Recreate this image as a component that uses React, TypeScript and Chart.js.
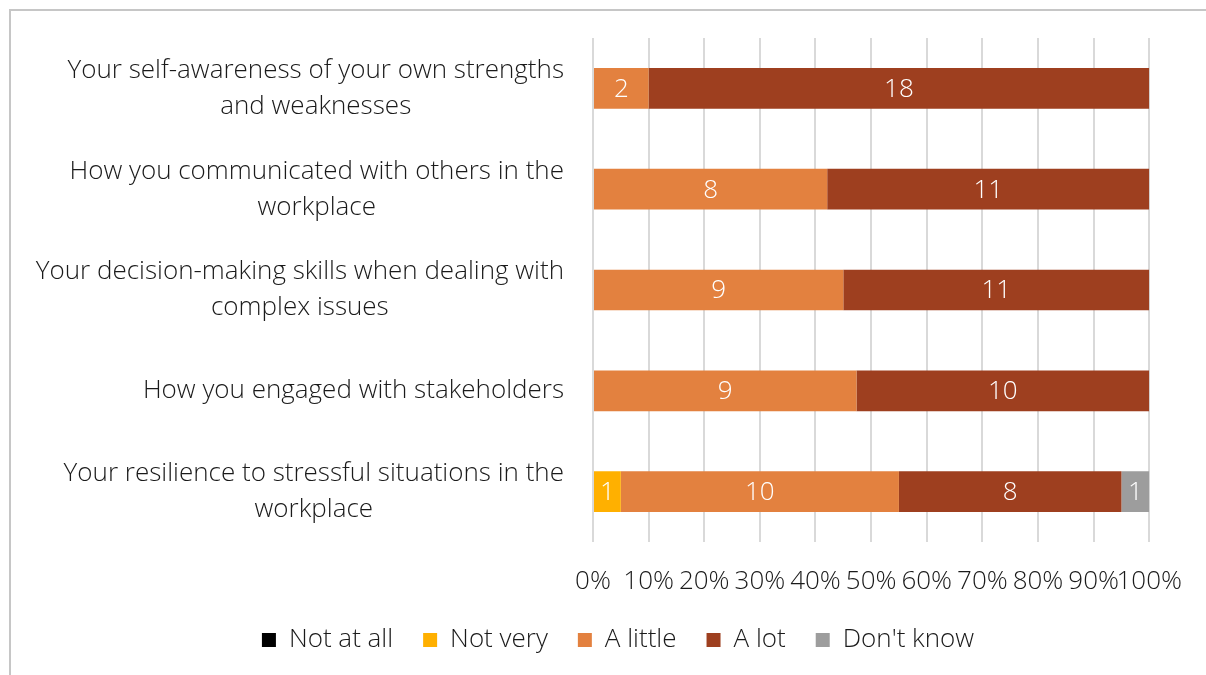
import React, { useEffect, useRef } from 'react';
import { Chart, registerables } from 'chart.js';

Chart.register(...registerables);

const categories: string[][] = [
  ['Your self-awareness of your own strengths', 'and weaknesses'],
  ['How you communicated with others in the', 'workplace'],
  ['Your decision-making skills when dealing with', 'complex issues'],
  ['How you engaged with stakeholders'],
  ['Your resilience to stressful situations in the', 'workplace'],
];
const seriesNames = ['Not at all', 'Not very', 'A little', 'A lot', "Don't know"];
const notAtAll = [0, 0, 0, 0, 0];
const notVery = [0, 0, 0, 0, 1];
const aLittle = [2, 8, 9, 9, 10];
const aLot = [18, 11, 11, 10, 8];
const dontKnow = [0, 0, 0, 0, 1];
const seriesColors = ['#000000', '#FFB000', '#E3813F', '#9E3F1F', '#9D9D9D'];
const xTickValues = [0, 10, 20, 30, 40, 50, 60, 70, 80, 90, 100];

const FONT = "'Open Sans', sans-serif";
const WEIGHT = 350;
const SIZE = 26;
const TEXT_COLOR = '#1A1A1A';

const allSeries = [notAtAll, notVery, aLittle, aLot, dontKnow];
const totals = categories.map((_, i) => allSeries.reduce((s, arr) => s + arr[i], 0));

const borderPlugin = {
  id: 'outerBorder',
  beforeDraw(chart: any) {
    const ctx = chart.ctx;
    ctx.save();
    ctx.strokeStyle = '#C6C6C6';
    ctx.lineWidth = 2;
    ctx.beginPath();
    ctx.moveTo(10, chart.height + 2);
    ctx.lineTo(10, 10);
    ctx.lineTo(chart.width + 2, 10);
    ctx.stroke();
    ctx.restore();
  },
};

const yLabelPlugin = {
  id: 'yLabels',
  afterDraw(chart: any) {
    const ctx = chart.ctx;
    const yScale = chart.scales.y;
    const right = chart.chartArea.left - 29;
    const lineH = 36;
    ctx.save();
    ctx.font = `${WEIGHT} ${SIZE}px ${FONT}`;
    ctx.fillStyle = TEXT_COLOR;
    ctx.textAlign = 'center';
    ctx.textBaseline = 'middle';
    categories.forEach((lines, i) => {
      const cy = yScale.getPixelForValue(i);
      const widest = Math.max(...lines.map((l) => ctx.measureText(l).width));
      const cx = right - widest / 2;
      const startY = cy - ((lines.length - 1) * lineH) / 2;
      lines.forEach((l, j) => ctx.fillText(l, cx, startY + j * lineH));
    });
    ctx.restore();
  },
};

const dataLabelPlugin = {
  id: 'dataLabels',
  afterDatasetsDraw(chart: any) {
    const ctx = chart.ctx;
    ctx.save();
    ctx.font = `${WEIGHT} ${SIZE}px ${FONT}`;
    ctx.fillStyle = '#FFFFFF';
    ctx.textAlign = 'center';
    ctx.textBaseline = 'middle';
    chart.data.datasets.forEach((ds: any, di: number) => {
      const meta = chart.getDatasetMeta(di);
      meta.data.forEach((el: any, i: number) => {
        const count = allSeries[di][i];
        if (!count) return;
        const p = el.getProps(['x', 'y', 'base'], true);
        ctx.fillText(String(count), (p.x + p.base) / 2, p.y + 1);
      });
    });
    ctx.restore();
  },
};

export default function App() {
  const ref = useRef<HTMLCanvasElement>(null);
  useEffect(() => {
    if (!ref.current) return;
    const chart = new Chart(ref.current, {
      type: 'bar',
      data: {
        labels: categories.map((c) => c.join(' ')),
        datasets: seriesNames.map((name, si) => ({
          label: name,
          data: allSeries[si].map((v, i) => (v / totals[i]) * 100),
          backgroundColor: seriesColors[si],
          borderWidth: 0,
          categoryPercentage: 1,
          barPercentage: 0.404,
        })),
      },
      options: {
        indexAxis: 'y',
        responsive: false,
        animation: false,
        layout: { padding: { left: 30, right: 0, top: 38, bottom: 12 } },
        plugins: {
          legend: {
            position: 'bottom',
            labels: {
              boxWidth: 14,
              boxHeight: 14,
              padding: 30,
              color: TEXT_COLOR,
              font: { family: FONT, size: SIZE, weight: WEIGHT },
            },
          },
          tooltip: { enabled: false },
        },
        scales: {
          x: {
            type: 'linear',
            stacked: true,
            min: 0,
            max: 100,
            afterBuildTicks: (s: any) => {
              s.ticks = xTickValues.map((v) => ({ value: v }));
            },
            afterFit: (s: any) => {
              s.height = 55;
            },
            grid: { color: '#D9D9D9', lineWidth: 2, drawTicks: false },
            border: { display: false },
            ticks: {
              padding: 24,
              autoSkip: false,
              maxRotation: 0,
              color: TEXT_COLOR,
              font: { family: FONT, size: SIZE, weight: WEIGHT },
              callback: (v: any) => `${v}%`,
            },
          },
          y: {
            type: 'category',
            stacked: true,
            afterFit: (s: any) => {
              s.width = 563;
            },
            grid: { display: false },
            border: { display: false },
            ticks: { display: false },
          },
          y2: {
            type: 'linear',
            position: 'right',
            display: true,
            afterFit: (s: any) => {
              s.width = 52;
            },
            grid: { display: false },
            border: { display: false },
            ticks: { display: false },
          },
        },
      },
      plugins: [borderPlugin, yLabelPlugin, dataLabelPlugin],
    } as any);
    return () => chart.destroy();
  }, []);
  return (
    <div style={{ position: 'fixed', left: 0, top: 0, width: 1206, height: 675, background: '#FFFFFF' }}>
      <canvas ref={ref} width={1206} height={675} />
    </div>
  );
}
